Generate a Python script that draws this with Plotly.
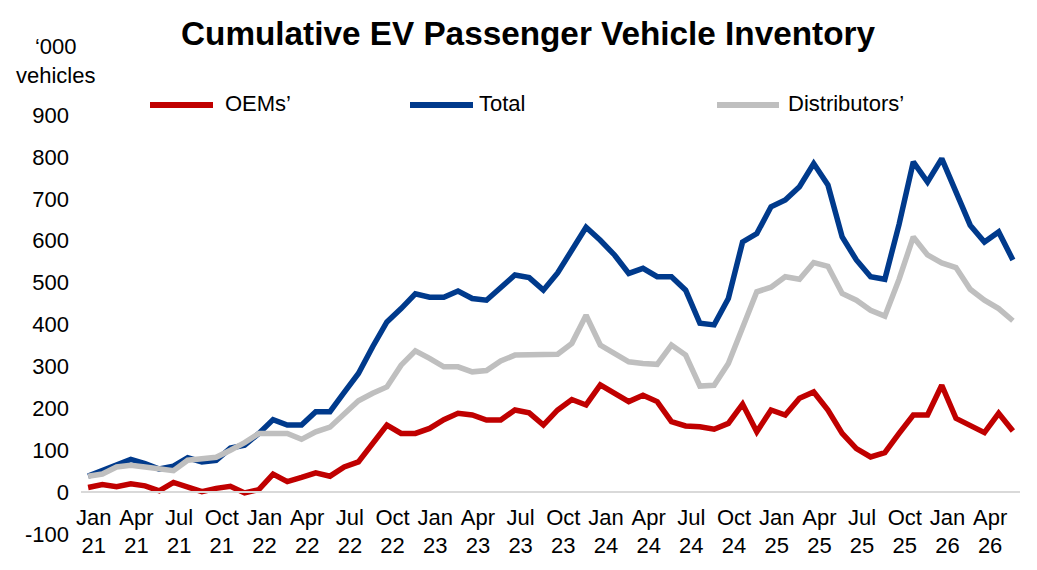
import plotly.graph_objects as go
import pandas as pd

# ---------------- data ----------------
months = [d.strftime("%b %y") for d in pd.date_range("2021-01-01", periods=66, freq="MS")]

oems = [11, 18, 13, 20, 15, 3, 23, 13, 1, 9, 14, -2,
        6, 43, 25, 35, 46, 38, 60, 72, 116, 160, 140, 140,
        152, 173, 188, 184, 172, 172, 196, 189, 160, 196, 221, 208,
        256, 237, 216, 231, 216, 168, 158, 156, 150, 164, 210, 144,
        196, 184, 224, 239, 196, 140, 104, 84, 94, 140, 184, 184,
        255, 176, 160, 142, 188, 146]

total = [38, 52, 64, 78, 68, 55, 62, 82, 72, 76, 105, 112,
         140, 173, 160, 160, 192, 192, 238, 283, 347, 406, 438, 473,
         465, 465, 480, 462, 458, 486, 518, 512, 482, 523, 578, 632,
         601, 566, 522, 534, 514, 514, 482, 403, 399, 462, 597, 617,
         681, 697, 729, 784, 733, 609, 554, 514, 508, 639, 788, 740,
         796, 713, 637, 597, 621, 554]

distributors = [38, 43, 60, 64, 60, 57, 51, 76, 80, 83, 100, 118,
                140, 140, 140, 126, 144, 155, 186, 218, 236, 251, 303, 337,
                319, 299, 299, 287, 290, 313, 327, 327, 327, 329, 355, 422,
                351, 331, 311, 307, 305, 351, 327, 253, 255, 307, 395, 478,
                489, 514, 508, 548, 539, 474, 458, 434, 420, 508, 609, 566,
                547, 536, 484, 458, 438, 409]

tick_months = ["Jan 21", "Apr 21", "Jul 21", "Oct 21", "Jan 22", "Apr 22", "Jul 22", "Oct 22",
               "Jan 23", "Apr 23", "Jul 23", "Oct 23", "Jan 24", "Apr 24", "Jul 24", "Oct 24",
               "Jan 25", "Apr 25", "Jul 25", "Oct 25", "Jan 26", "Apr 26"]
tick_labels = [m.replace(" ", "<br>") for m in tick_months]

y_ticks = [-100, 0, 100, 200, 300, 400, 500, 600, 700, 800, 900]
y_tick_labels = [str(v) for v in y_ticks]

series_names = ["OEMs’", "Total", "Distributors’"]
series_colors = ["#C00000", "#003A8C", "#BFBFBF"]

# ---------------- layout constants ----------------
W, H = 1037, 570
L, R, T, B = 81, 1020, 115, 534  # plot area in pixels
FONT = "Liberation Sans, Arial, Helvetica, sans-serif"


def px_x(px):
    return (px - L) / (R - L)


def px_y(py):
    return (B - py) / (B - T)


xs = list(range(len(months)))

traces = {}
for name, vals, col in zip(series_names, [oems, total, distributors], series_colors):
    traces[name] = go.Scatter(
        x=xs, y=vals, name=name, mode="lines",
        line=dict(color=col, width=5.5),
        customdata=months,
        hovertemplate="%{customdata}: %{y}<extra>" + name + "</extra>",
        showlegend=False,
    )

fig = go.Figure()
# drawing order: Total, Distributors (grey over blue), OEMs
for name in ["Total", "Distributors’", "OEMs’"]:
    fig.add_trace(traces[name])

tickvals = [months.index(m) + 0.4 for m in tick_months]

fig.update_layout(
    width=W, height=H, autosize=False,
    margin=dict(l=L, r=W - R, t=T, b=H - B, pad=0),
    paper_bgcolor="white", plot_bgcolor="white",
    font=dict(family=FONT, size=22, color="black"),
    title=dict(text="<b>Cumulative EV Passenger Vehicle Inventory</b>",
               x=528 / W, xanchor="center", xref="container",
               y=1 - 33 / H, yanchor="middle", yref="container",
               font=dict(family=FONT, size=33.3, color="black")),
    xaxis=dict(range=[-0.5, len(months) - 0.5], tickvals=tickvals, ticktext=tick_labels,
               showgrid=False, zeroline=False, showline=True, linecolor="#D9D9D9", linewidth=2,
               anchor="free", position=(0 - (-100)) / 1000, ticks="", tickfont=dict(size=22),
               ticklabelstandoff=5),
    yaxis=dict(range=[-100, 900], tickvals=y_ticks, ticktext=y_tick_labels,
               showgrid=False, zeroline=False,
               showline=False, ticks="", tickfont=dict(size=22), ticklabelstandoff=11),
    showlegend=False,
)

# y-axis unit label
fig.add_annotation(text="‘000<br>vehicles", xref="paper", yref="paper",
                   x=px_x(55), y=px_y(61), xanchor="center", yanchor="middle",
                   showarrow=False, font=dict(size=22, family=FONT))

# manual legend
legend_items = [(150, 213, 223), (410, 473, 477), (717, 779, 786)]
for (x0, x1, xt), name, col in zip(legend_items, series_names, series_colors):
    fig.add_shape(type="line", xref="paper", yref="paper",
                  x0=px_x(x0), x1=px_x(x1), y0=px_y(105), y1=px_y(105),
                  line=dict(color=col, width=6))
    fig.add_annotation(text=name, xref="paper", yref="paper",
                       x=px_x(xt), y=px_y(103), xanchor="left", yanchor="middle",
                       showarrow=False, font=dict(size=22, family=FONT))

fig.write_html("out.html")
